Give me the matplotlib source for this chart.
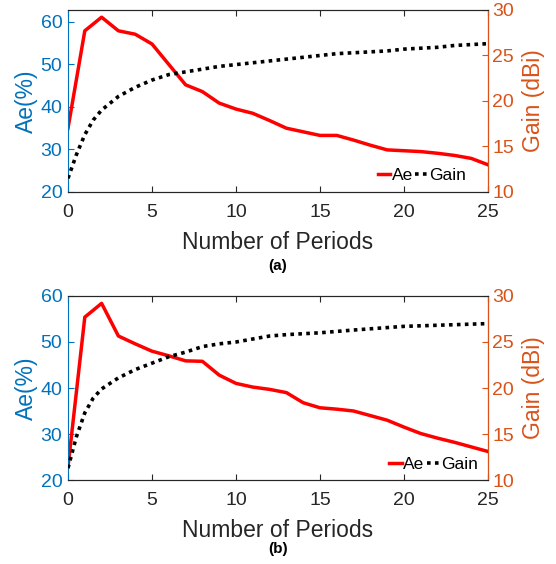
import numpy as np
import matplotlib
matplotlib.use('Agg')
import matplotlib.pyplot as plt

plt.rcParams['font.family'] = ['Liberation Sans', 'DejaVu Sans']

# (a)
periods_a = [0, 1, 2, 3, 4, 5, 6, 7, 8, 9, 10, 11, 12, 13, 15, 16, 17, 18, 19, 20, 21, 22, 23, 24, 25]
ae_a = [35.0, 57.9, 61.1, 57.9, 57.1, 54.8, 50.0, 45.2, 43.6, 40.9, 39.5, 38.5, 36.8, 35.0,
        33.3, 33.3, 32.2, 31.0, 29.9, 29.7, 29.5, 29.1, 28.6, 27.9, 26.4]
gain_x_a = [0, 0.5, 1, 1.5, 2, 3, 4, 5, 6, 7, 8, 9, 10, 12, 13, 14, 15, 16, 17, 18, 19, 20, 21, 22, 23, 24, 25]
gain_a = [11.5, 14.1, 16.3, 17.9, 19.0, 20.5, 21.5, 22.3, 22.9, 23.2, 23.5, 23.8, 24.0, 24.4,
          24.6, 24.8, 25.0, 25.2, 25.3, 25.4, 25.5, 25.7, 25.8, 25.9, 26.1, 26.2, 26.3]

# (b)
periods_b = [0, 1, 2, 3, 4, 5, 6, 7, 8, 9, 10, 11, 12, 13, 14, 15, 16, 17, 18, 19, 20, 21, 22, 23, 24, 25]
ae_b = [22.9, 55.4, 58.4, 51.3, 49.6, 48.0, 47.0, 45.9, 45.8, 42.8, 41.0, 40.2, 39.7, 39.0,
        36.8, 35.7, 35.4, 35.0, 34.0, 33.0, 31.5, 30.1, 29.1, 28.2, 27.2, 26.2]
gain_x_b = [0, 0.5, 1, 1.5, 2, 3, 4, 5, 6, 7, 8, 9, 10, 12, 13, 15, 17, 20, 25]
gain_b = [11.3, 14.7, 17.3, 18.9, 19.9, 21.1, 22.0, 22.7, 23.4, 23.9, 24.5, 24.8, 25.0, 25.65,
          25.8, 26.0, 26.3, 26.7, 27.0]

blue = '#0072BD'
orange = '#D95319'
dark = '#262626'

fig = plt.figure(figsize=(5.56, 5.64), dpi=100)


def panel(rect, px, ae, gx, gain, ae_top, tag, tag_y, leg_xy):
    ax = fig.add_axes(rect)
    ax2 = ax.twinx()
    l1, = ax.plot(px, ae, color='red', lw=2.5, label='Ae')
    l2, = ax2.plot(gx, gain, color='black', lw=2.6, ls=(0, (1, 1.2)), label='Gain')
    ax.set_xlim(0, 25)
    ax.set_ylim(20, ae_top)
    ax2.set_ylim(10, 30)
    ax.set_xticks([0, 5, 10, 15, 20, 25])
    ax.set_yticks([20, 30, 40, 50, 60])
    ax2.set_yticks([10, 15, 20, 25, 30])
    ax.tick_params(axis='x', direction='in', top=True, labelsize=14, colors=dark, length=4, pad=8.5)
    ax.tick_params(axis='y', direction='in', labelsize=14, colors=blue, length=4, pad=4)
    ax2.tick_params(axis='y', direction='in', labelsize=14, colors=orange, length=4, pad=3)
    ax.spines['left'].set_color(blue)
    ax2.spines['right'].set_color(orange)
    ax2.spines['left'].set_visible(False)
    for s in ['top', 'bottom']:
        ax.spines[s].set_color(dark)
        ax2.spines[s].set_color(dark)
    ax.set_xlabel('Number of Periods', fontsize=16.5, color=dark, labelpad=7)
    ax.set_ylabel('Ae(%)', fontsize=16.5, color=blue, labelpad=2)
    ax2.set_ylabel('Gain (dBi)', fontsize=16.5, color=orange, labelpad=6)
    ax2.legend(handles=[l1, l2], loc='center right', ncol=2, frameon=False, fontsize=12.5,
               handlelength=0.7, handletextpad=0.1, columnspacing=0.15,
               borderpad=0, borderaxespad=0, bbox_to_anchor=leg_xy)
    fig.text(0.5, tag_y, tag, ha='center', va='center', fontsize=11, fontweight='bold')


panel([0.1223, 0.6596, 0.7554, 0.3227], periods_a, ae_a, gain_x_a, gain_a, 62.8,
      '(a)', 1 - 266 / 564, (0.948, 0.093))
panel([0.1223, 0.1489, 0.7554, 0.3263], periods_b, ae_b, gain_x_b, gain_b, 60,
      '(b)', 1 - 549 / 564, (0.976, 0.087))

plt.savefig('out.png', dpi=100)
